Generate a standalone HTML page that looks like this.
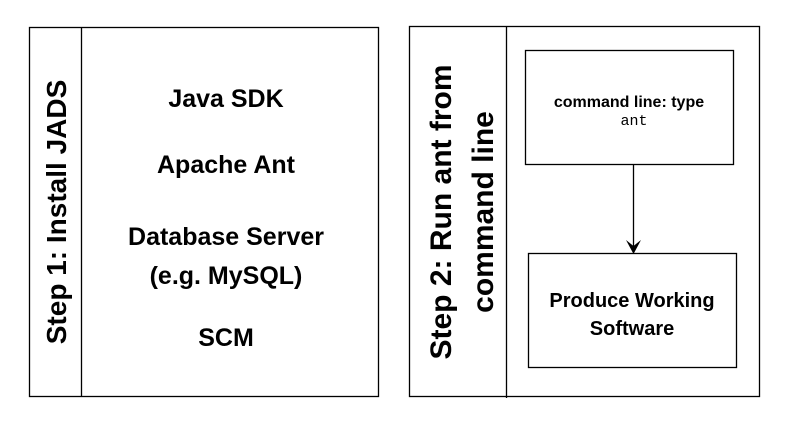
<!DOCTYPE html>
<html><head><style>
html,body{margin:0;padding:0;background:#fff;}
svg text{font-family:"Liberation Sans",sans-serif;font-weight:bold;fill:#000;}
</style></head><body>
<svg width="794" height="428" viewBox="0 0 794 428" xmlns="http://www.w3.org/2000/svg">
<rect x="0" y="0" width="794" height="428" fill="#fff"/>
<g fill="none" stroke="#000" stroke-width="1.3">
<rect x="29.5" y="27.5" width="349" height="369"/>
<line x1="81.5" y1="27.5" x2="81.5" y2="396.5"/>
<rect x="409.5" y="26.5" width="350" height="370"/>
<line x1="506.5" y1="26.5" x2="506.5" y2="398"/>
<rect x="525.5" y="50.5" width="208" height="114"/>
<rect x="528.5" y="253.5" width="208" height="114"/>
<line x1="633.5" y1="164.5" x2="633.5" y2="248"/>
</g>
<path d="M626 240 L633.5 254 L641 240 L633.5 246 Z" fill="#000"/>
<g text-anchor="middle">
<text x="226" y="107" font-size="25">Java SDK</text>
<text x="226" y="173" font-size="25">Apache Ant</text>
<text x="226" y="245" font-size="25">Database Server</text>
<text x="226" y="284" font-size="25">(e.g. MySQL)</text>
<text x="226" y="346" font-size="25">SCM</text>
<text transform="translate(66,212) rotate(-90)" font-size="28">Step 1: Install JADS</text>
<text transform="translate(451,212) rotate(-90)" font-size="30">Step 2: Run ant from</text>
<text transform="translate(493,212) rotate(-90)" font-size="30">command line</text>
<text x="629" y="107" font-size="16">command line: type</text>
<text x="634" y="125" font-size="15" style="font-family:'Liberation Mono',monospace;font-weight:normal">ant</text>
<text x="632" y="307" font-size="20">Produce Working</text>
<text x="632" y="335" font-size="20">Software</text>
</g>
</svg>
</body></html>
